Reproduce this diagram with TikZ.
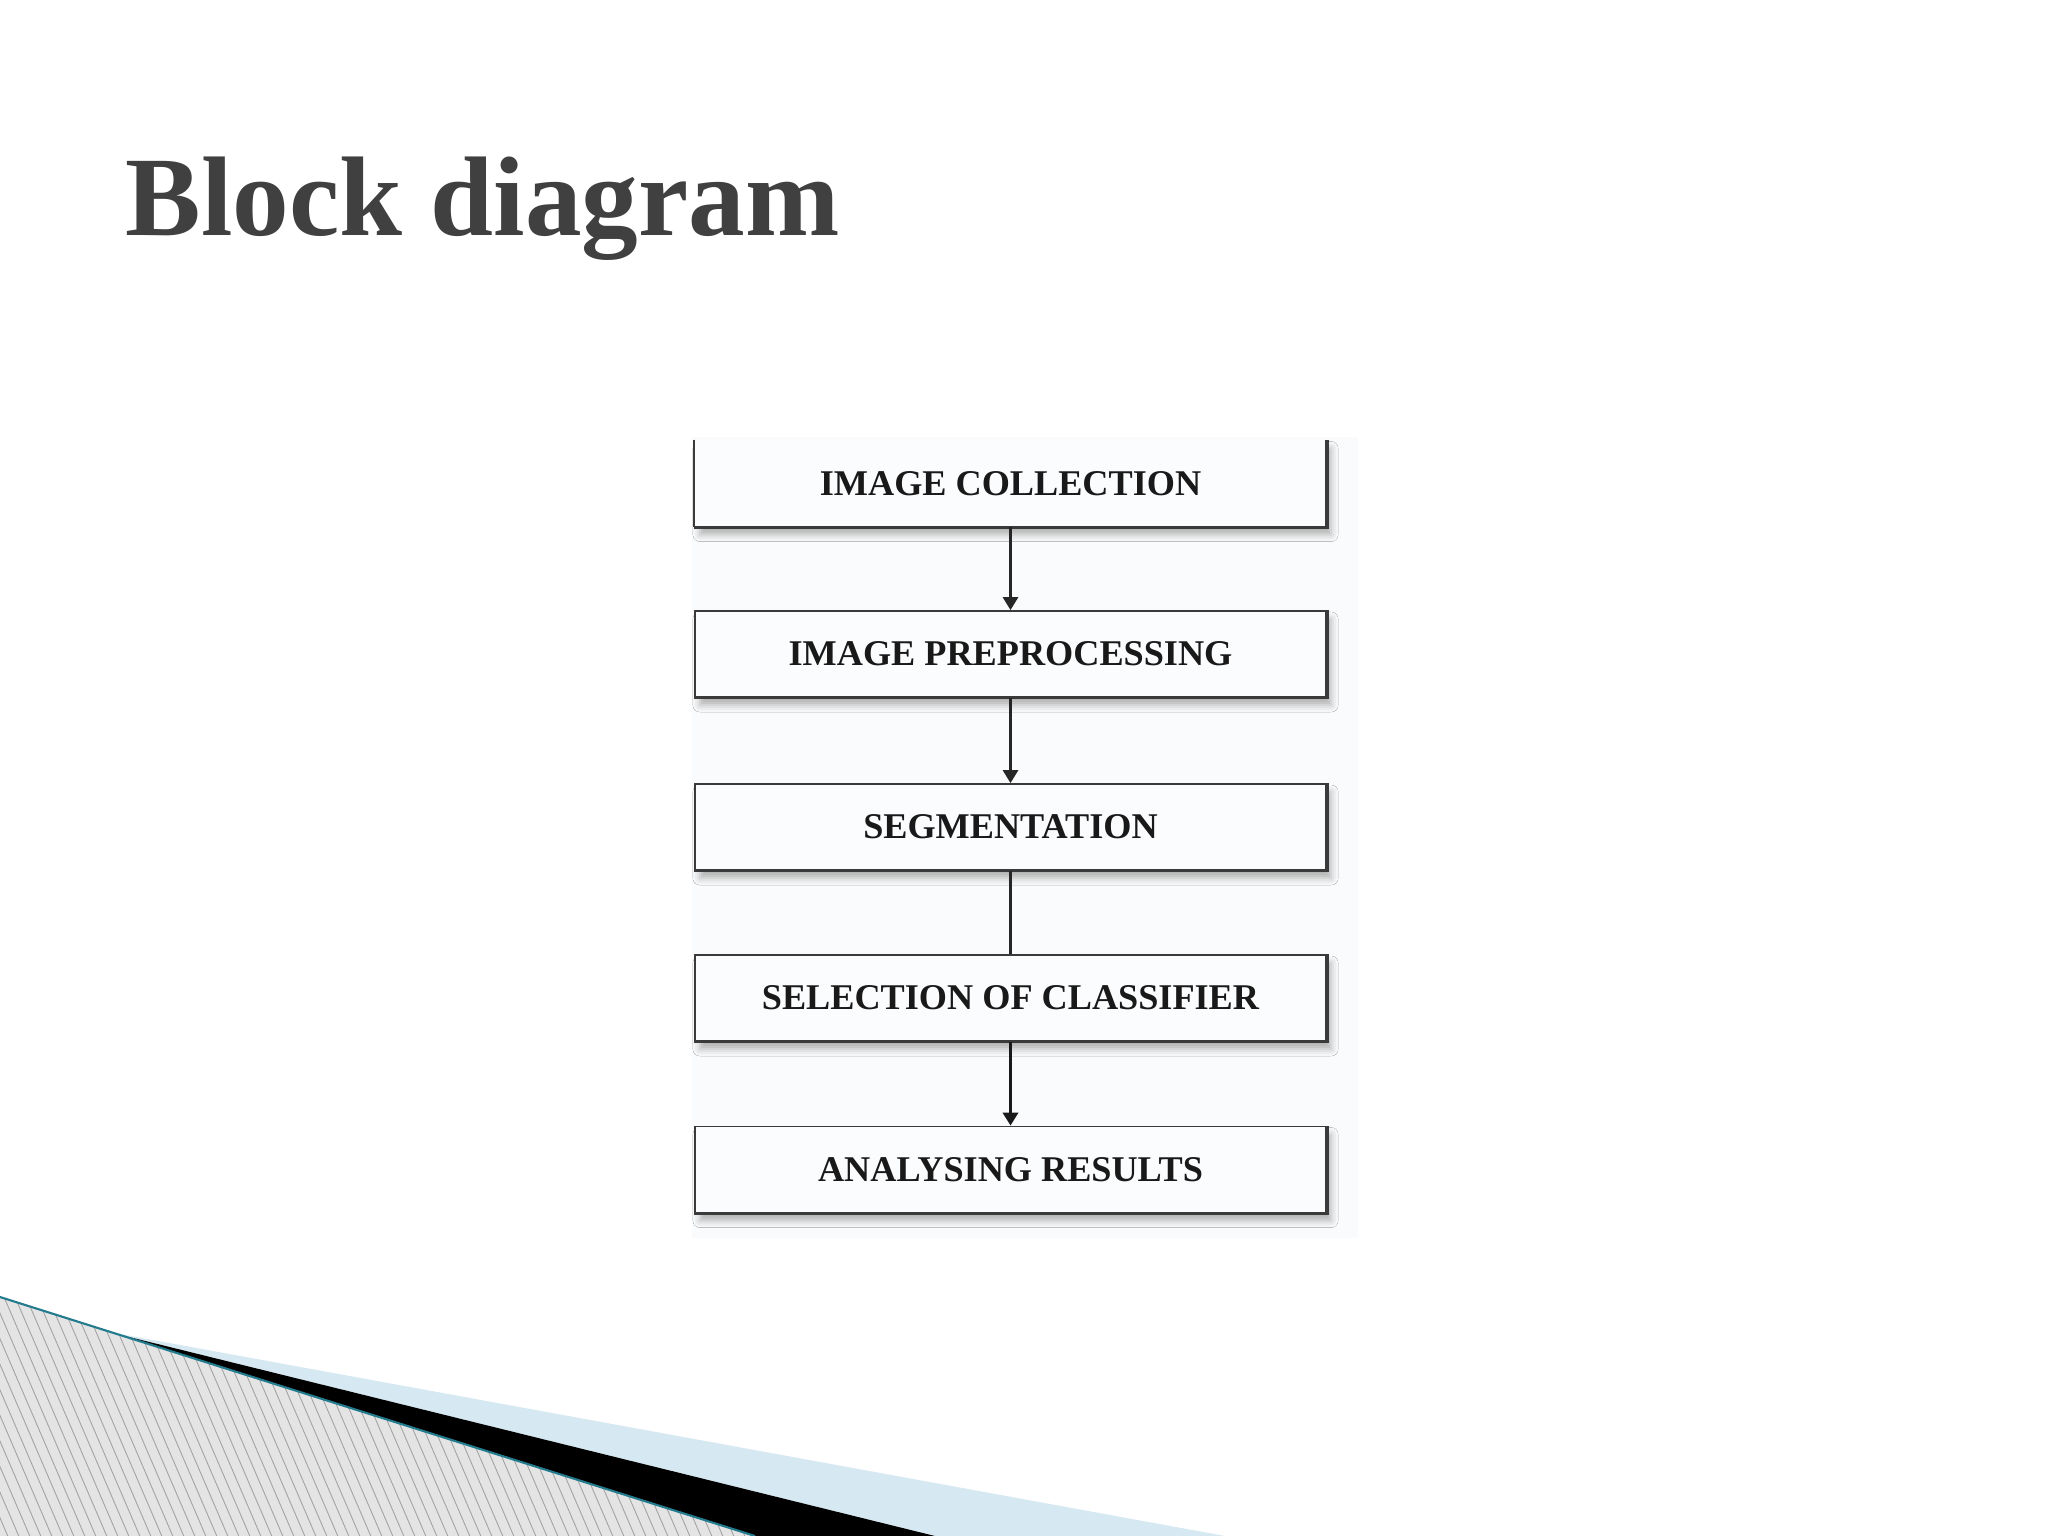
\documentclass[tikz,border=0pt]{standalone}
\usepackage{fontspec}
\setmainfont{Liberation Serif}
\usetikzlibrary{arrows.meta,shadows.blur}
\definecolor{titlegray}{HTML}{404040}
\definecolor{boxedge}{HTML}{3A3A3A}
\definecolor{boxfill}{HTML}{FBFCFD}
\definecolor{figbg}{HTML}{FAFBFC}
\definecolor{hatchbg}{HTML}{E4E4E4}
\definecolor{hatchline}{HTML}{A2A2A2}
\definecolor{tealline}{HTML}{237C8E}
\definecolor{paleblue}{HTML}{D6E8F1}
\tikzset{
  stepbox/.style={draw=boxedge, line width=0.5pt, fill=boxfill,
    minimum width=631*0.2845pt, minimum height=86*0.2845pt, inner sep=0pt,
    font=\fontsize{10.3}{12}\selectfont\bfseries, text=black!90,
    blur shadow={shadow xshift=0.5mm, shadow yshift=-0.8mm, shadow blur radius=0.7mm, shadow opacity=30}},
  edgethick/.style={draw=boxedge, line width=0.9pt},
  flow/.style={draw=black!85, line width=0.7pt, -{Triangle[width=4.3pt,length=3.7pt]}},
  flowthick/.style={draw=black!90, line width=0.95pt, -{Triangle[width=4.3pt,length=3.7pt]}},
  plainflow/.style={draw=black!85, line width=0.7pt}
}
\begin{document}
\begin{tikzpicture}[x=0.01cm,y=-0.01cm]
\useasboundingbox[fill=white] (0,0) rectangle (2048,1536);
% figure background
\fill[figbg] (692,437) rectangle (1358,1238);
% title
\node[anchor=base west, inner sep=0pt, text=titlegray, font=\fontsize{32.2}{38}\selectfont\bfseries] (title) at (125,235) {Block diagram};
% boxes
\node[stepbox, draw=none] (b1) at (1010.5,483.5) {IMAGE COLLECTION};
\node[stepbox] (b2) at (1010.5,654) {IMAGE PREPROCESSING};
\node[stepbox] (b3) at (1010.5,827) {SEGMENTATION};
\node[stepbox] (b4) at (1010.5,998) {SELECTION OF CLASSIFIER};
\node[stepbox] (b5) at (1010.5,1169.5) {ANALYSING RESULTS};
\draw[boxedge, line width=0.5pt] (b1.north west) -- (b1.south west);
\foreach \b in {b1,b2,b3,b4,b5}{
  \draw[edgethick] (\b.south west) -- (\b.south east) -- (\b.north east);
}
% connectors
\draw[flow] (b1.south) -- (b2.north);
\draw[flow] (b2.south) -- (b3.north);
\draw[plainflow] (b3.south) -- (b4.north);
\draw[flowthick] (b4.south) -- (b5.north);
% bottom-left decoration
\fill[paleblue] (109,1332) -- (1225,1536) -- (935,1536) -- cycle;
\fill[black] (109,1332) -- (935,1536) -- (755,1536) -- cycle;
\begin{scope}
  \clip (0,1297) -- (755,1536) -- (0,1536) -- cycle;
  \fill[hatchbg] (0,1290) rectangle (760,1536);
  \foreach \x in {-120,-109,...,760}{
    \draw[hatchline, line width=0.25pt] (\x,1290) -- ({\x+0.43*246},1536);
  }
\end{scope}
\draw[tealline, line width=0.6pt] (0,1297) -- (755,1536);
\end{tikzpicture}
\end{document}
